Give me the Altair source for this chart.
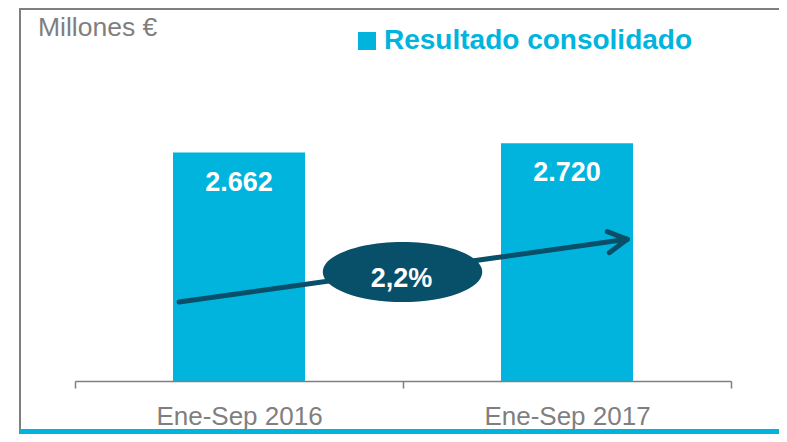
import altair as alt
import pandas as pd

# ---- data ----
categories = ["Ene-Sep 2016", "Ene-Sep 2017"]
values = [2662, 2720]
value_labels = ["2.662", "2.720"]
series_name = "Resultado consolidado"
growth_label = "2,2%"
unit_label = "Millones €"
axis_floor = 1252   # visual baseline of the bars (axis does not start at 0)
axis_ceiling = 3554

CYAN = "#00B4DE"
DARK = "#084F69"
GRAY = "#7F7F7F"
FONT = "Liberation Sans"

df = pd.DataFrame({
    "cat": categories,
    "value": values,
    "label": value_labels,
    "series": [series_name] * len(categories),
})

x_enc = alt.X(
    "cat:N",
    sort=categories,
    scale=alt.Scale(range=[67, 723], paddingInner=0, paddingOuter=0),
    axis=alt.Axis(
        title=None, labelAngle=0, tickBand="extent", grid=False, zindex=2,
        domainColor=GRAY, domainWidth=1.5, tickColor=GRAY, tickWidth=1.5, tickSize=7,
        labelFont=FONT, labelFontSize=26, labelColor=GRAY,
        labelBaseline="alphabetic", labelPadding=36,
    ),
)
y_scale = alt.Scale(domain=[axis_floor, axis_ceiling], range=[373, 0], zero=False, nice=False)

bars = alt.Chart(df).mark_bar(size=132).encode(
    x=x_enc,
    y=alt.Y("value:Q", scale=y_scale, axis=None),
    y2=alt.datum(axis_floor),
    color=alt.Color(
        "series:N",
        scale=alt.Scale(domain=[series_name], range=[CYAN]),
        legend=alt.Legend(
            title=None, orient="none", legendX=345, legendY=19, padding=0,
            symbolType="square", symbolSize=324, symbolStrokeWidth=0, symbolOpacity=1,
            labelFont=FONT, labelFontSize=28, labelFontWeight="bold", labelColor=CYAN,
            labelOffset=3, labelLimit=600,
        ),
    ),
)

value_text = alt.Chart(df).mark_text(
    font=FONT, fontSize=27, fontWeight="bold", color="white", baseline="middle", dy=30
).encode(
    x=alt.X("cat:N", sort=categories),
    y=alt.Y("value:Q", axis=None),
    text="label:N",
)

one = pd.DataFrame({"k": [0]})

arrow_shaft = alt.Chart(one).mark_rule(color=DARK, strokeWidth=5, strokeCap="round").encode(
    x=alt.value(171), y=alt.value(294), x2=alt.value(619), y2=alt.value(231.3)
)
arrow_head1 = alt.Chart(one).mark_rule(color=DARK, strokeWidth=5, strokeCap="round").encode(
    x=alt.value(599.3), y=alt.value(223.7), x2=alt.value(619.3), y2=alt.value(231.3)
)
arrow_head2 = alt.Chart(one).mark_rule(color=DARK, strokeWidth=5, strokeCap="round").encode(
    x=alt.value(601.3), y=alt.value(244.7), x2=alt.value(619.3), y2=alt.value(231.3)
)

ellipse_path = "M -1 0 A 1 0.377 0 1 0 1 0 A 1 0.377 0 1 0 -1 0 Z"
ellipse = alt.Chart(one).mark_point(
    shape=ellipse_path, size=159.5 ** 2, filled=True, color=DARK, opacity=1, strokeWidth=0
).encode(x=alt.value(394.5), y=alt.value(264))

growth_text = alt.Chart(pd.DataFrame({"t": [growth_label]})).mark_text(
    font=FONT, fontSize=27, fontWeight="bold", color="white", baseline="alphabetic", align="center"
).encode(x=alt.value(393.5), y=alt.value(278.7), text="t:N")

unit_text = alt.Chart(pd.DataFrame({"t": [unit_label]})).mark_text(
    font=FONT, fontSize=26.5, color=GRAY, baseline="alphabetic", align="left"
).encode(x=alt.value(30), y=alt.value(28), text="t:N")

frame_left = alt.Chart(one).mark_rule(color=GRAY, strokeWidth=2).encode(
    x=alt.value(12), y=alt.value(0), y2=alt.value(421)
)
frame_top = alt.Chart(one).mark_rule(color=GRAY, strokeWidth=2).encode(
    x=alt.value(11), x2=alt.value(771), y=alt.value(1)
)
strip = alt.Chart(one).mark_rect(color=CYAN).encode(
    x=alt.value(11), x2=alt.value(771), y=alt.value(421), y2=alt.value(426)
)

chart = alt.layer(
    frame_left, frame_top, strip, bars, value_text,
    arrow_shaft, arrow_head1, arrow_head2, ellipse, growth_text, unit_text,
).properties(
    width=771, height=373,
    padding={"left": 0, "top": 0, "right": 0, "bottom": 53},
    autosize="none",
    background="transparent",
).configure_view(stroke="transparent", strokeWidth=0)

chart.save("out.html", embed_options={"renderer": "svg", "actions": False})
